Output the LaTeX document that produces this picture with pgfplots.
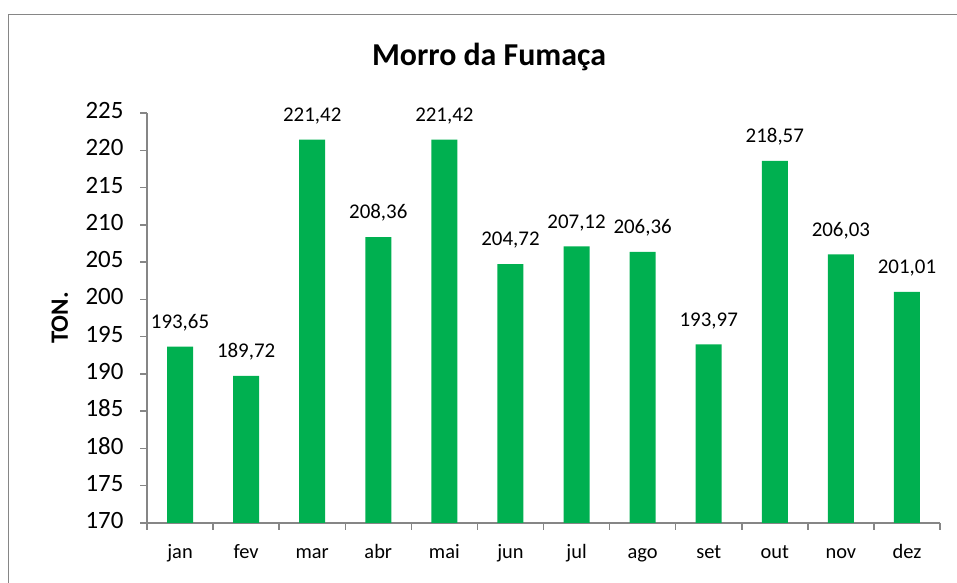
\documentclass[border=0pt]{standalone}
\usepackage{pgfplots}
\pgfplotsset{compat=1.18}
\usepackage{fontspec}
\setmainfont{Carlito}
\definecolor{bargreen}{HTML}{00B050}
\definecolor{axgray}{HTML}{868686}
\begin{document}
\begin{tikzpicture}[x=1bp,y=1bp]
\useasboundingbox (0,0) rectangle (957,583);
\draw[axgray, line width=1.5bp] (8.5,-5) -- (8.5,568.5) -- (962,568.5);
\node[font=\fontsize{32}{36}\selectfont\bfseries] at (489,526) {Morro da Fumaça};
\begin{axis}[
  at={(147bp,60bp)}, anchor=south west,
  scale only axis, width=793bp, height=410bp,
  ymin=170, ymax=225, ytick={170,175,...,225},
  xmin=-0.5, xmax=11.5,
  xtick={-0.5,0.5,...,11.5},
  x tick label as interval,
  xticklabels={jan,fev,mar,abr,mai,jun,jul,ago,set,out,nov,dez},
  axis lines*=left,
  axis line style={axgray, line width=1.5bp},
  tick style={axgray, line width=1.5bp},
  major tick length=7bp,
  tick align=outside,
  /pgf/number format/assume math mode=true,
  y tick label style={font=\fontsize{25}{28}\selectfont, xshift=-13bp},
  typeset ticklabels with strut,
  x tick label style={font=\fontsize{20.5}{24}\selectfont, yshift=-8bp},
  ylabel={TON.},
  ylabel style={font=\fontsize{25}{28}\selectfont\bfseries, at={(axis description cs:-0.11,0.5)}, anchor=center},
  ybar, bar width=26bp,
  nodes near coords={\pgfmathprintnumber[fixed,fixed zerofill,precision=2,use comma,assume math mode=true]{\pgfplotspointmeta}},
  nodes near coords style={font=\fontsize{21}{24}\selectfont, black, anchor=south, yshift=12bp},
  clip=false,
]
\addplot[fill=bargreen, draw=none] coordinates {
(0,193.65) (1,189.72) (2,221.42) (3,208.36) (4,221.42) (5,204.72)
(6,207.12) (7,206.36) (8,193.97) (9,218.57) (10,206.03) (11,201.01)
};
\end{axis}
\end{tikzpicture}
\end{document}
